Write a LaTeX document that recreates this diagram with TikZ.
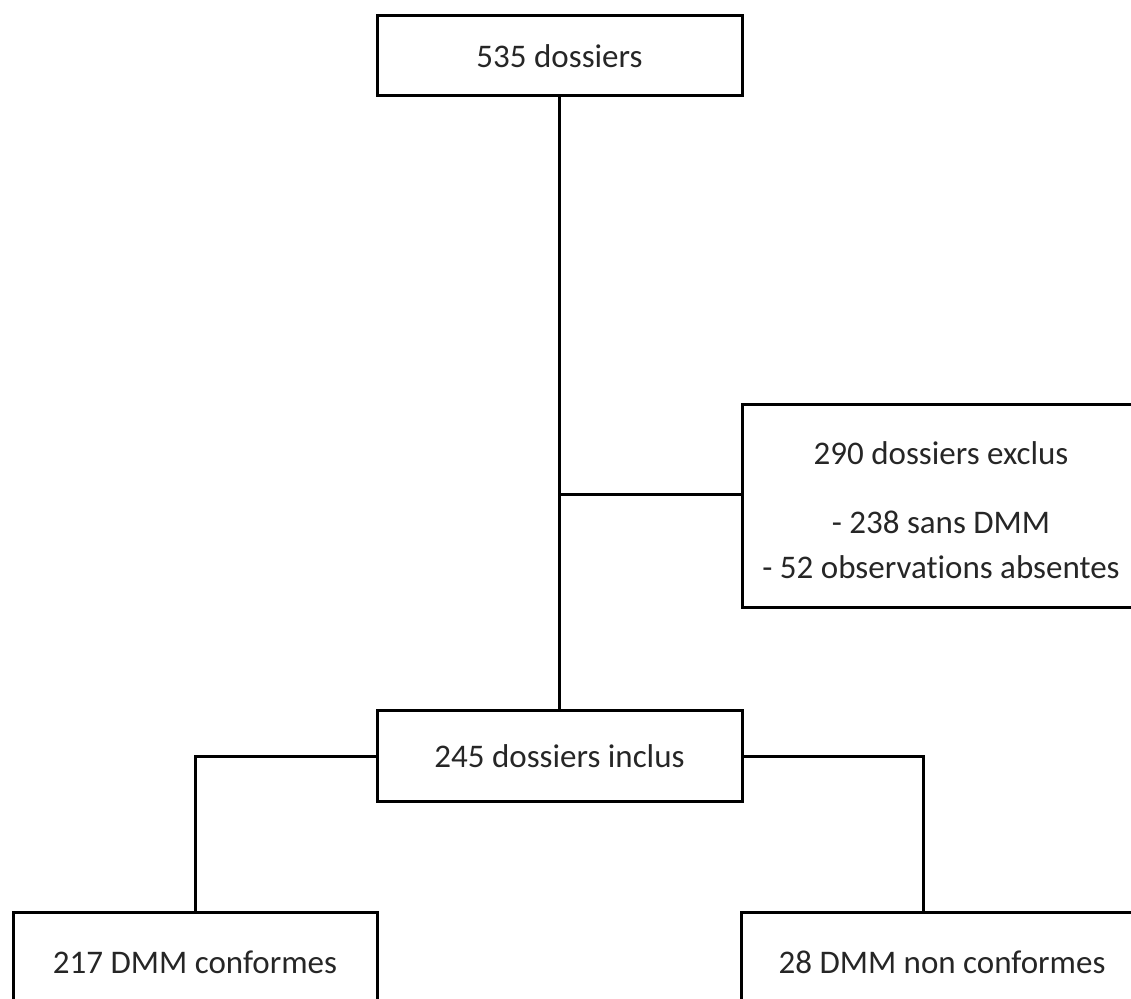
\documentclass[tikz,border=0pt]{standalone}
\usepackage{fontspec}
\setmainfont{Carlito}[Ligatures=NoCommon]
\begin{document}
\begin{tikzpicture}[x=0.5pt,y=-0.5pt,
  box/.style={draw=black,line width=1.5pt,inner sep=0pt,align=center,
    font=\fontsize{16.5}{22.5}\selectfont,text=black!85},
  conn/.style={draw=black,line width=1.5pt}]
\useasboundingbox (0,0) rectangle (1131,999);
\node[box,minimum width=182.5pt,minimum height=40pt] (top) at (559.5,56) {535 dossiers};
\node[box,minimum width=199pt,minimum height=101.5pt] (excl) at (941,506.5)
  {\rule{0pt}{15.5pt}290 dossiers exclus\\[12pt]- 238 sans DMM\\- 52 observations absentes};
\node[box,minimum width=182.5pt,minimum height=45.5pt] (inc) at (559.5,756.5) {245 dossiers inclus};
\node[box,minimum width=182pt,minimum height=49pt] (bl) at (195,962) {217 DMM conformes};
\node[box,minimum width=201pt,minimum height=49pt] (br) at (942,962) {28 DMM non conformes};
\coordinate (exj) at (742,495);
\coordinate (brj) at (923,913);
\draw[conn] (top.south) -- (inc.north);
\draw[conn] (top.south |- exj) -- (exj);
\draw[conn] (inc.west) -| (bl.north);
\draw[conn] (inc.east) -| (brj);
\end{tikzpicture}
\end{document}
